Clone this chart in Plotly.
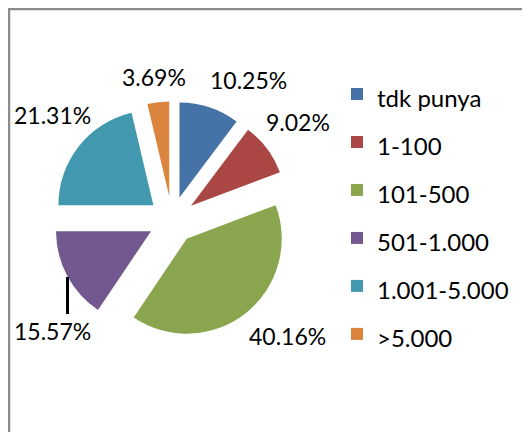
import plotly.graph_objects as go

labels = ['tdk punya', '1-100', '101-500', '501-1.000', '1.001-5.000', '>5.000']
values = [10.25, 9.02, 40.16, 15.57, 21.31, 3.69]
colors = ['#4572A7', '#AA4643', '#89A54E', '#71588F', '#4198AF', '#DB843D']

W, H = 530, 432
off = 8  # page body margin shifts the figure
cx, cy, r, pull = 172 - off, 220 - off, 95, 0.25
half = r * (1 + pull)

# where the data labels sit (page pixels from top-left), like the original layout
label_pos = [(248, 80), (298, 122), (287, 336), (52, 331), (52, 115), (154, 77)]

# legend text smaller than legend font so entries get spaced like the original
legend_labels = ["<span style='font-size:24px'>%s</span>" % l for l in labels]

fig = go.Figure(go.Pie(
    labels=legend_labels,
    values=values,
    sort=False,
    direction='clockwise',
    rotation=0,
    pull=[pull] * len(values),
    marker=dict(colors=colors, line=dict(width=0)),
    textinfo='none',
    hoverinfo='label+value',
    domain=dict(x=[(cx - half) / W, (cx + half) / W],
                y=[(H - cy - half) / H, (H - cy + half) / H]),
))

for v, (px_, py_) in zip(values, label_pos):
    fig.add_annotation(x=(px_ - off) / W, y=1 - (py_ - off) / H,
                       xref='paper', yref='paper',
                       text='%.2f%%' % v, showarrow=False,
                       xanchor='center', yanchor='middle',
                       font=dict(size=23, family='Lato', color='black'))

# leader line for 15.57%
fig.add_shape(type='line', xref='paper', yref='paper',
              x0=(67.5 - off) / W, x1=(67.5 - off) / W,
              y0=1 - (314 - off) / H, y1=1 - (277 - off) / H,
              line=dict(color='black', width=3))

fig.add_shape(type='rect', xref='paper', yref='paper',
              x0=1 / W, x1=1.2, y0=-0.2, y1=1 - 1 / H,
              line=dict(color='#8c8c8c', width=2.5))

fig.update_layout(
    width=W, height=H,
    margin=dict(l=0, r=0, t=0, b=0, autoexpand=False),
    paper_bgcolor='white',
    font=dict(family='Lato', color='black'),
    showlegend=True,
    legend=dict(x=329 / W, y=1 - 57 / H, xanchor='left', yanchor='top',
                font=dict(size=34.6, family='Lato', color='black')),
)

fig.write_html("out.html")
